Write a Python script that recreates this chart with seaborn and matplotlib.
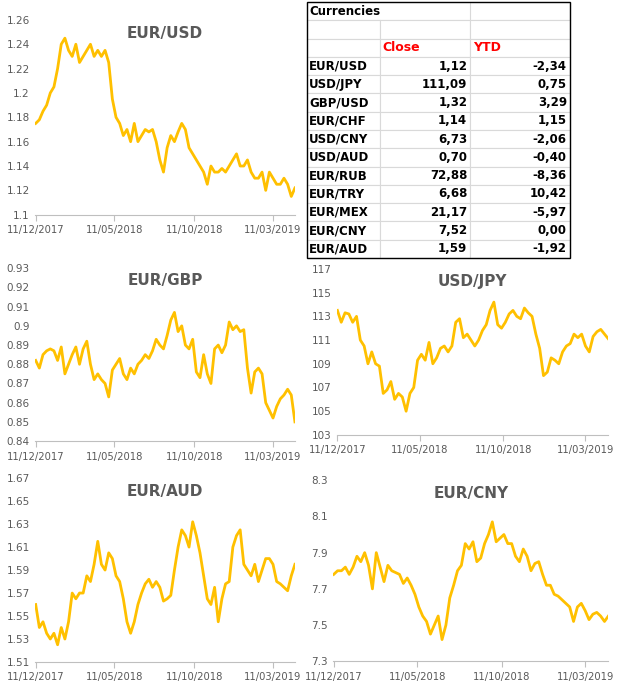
import numpy as np, pandas as pd
import matplotlib
matplotlib.use("Agg")
import matplotlib.pyplot as plt
import matplotlib.dates as mdates
import seaborn as sns

# weekly closes, 11/12/2017 .. late 04/2019
eur_usd = [1.175, 1.178, 1.185, 1.19,
           1.20, 1.205, 1.22, 1.24, 1.245,
           1.235, 1.23, 1.24, 1.225,
           1.23, 1.235, 1.24, 1.23,
           1.235, 1.23, 1.235, 1.225,
           1.195, 1.18, 1.175, 1.165,
           1.17, 1.16, 1.175, 1.16,
           1.165, 1.17, 1.168, 1.17,
           1.16, 1.145, 1.135, 1.155, 1.165,
           1.16, 1.168, 1.175, 1.17,
           1.155, 1.15, 1.145, 1.14,
           1.135, 1.125, 1.14, 1.135,
           1.135, 1.138, 1.135, 1.14,
           1.145, 1.15, 1.14, 1.14,
           1.145, 1.135, 1.13, 1.13, 1.135,
           1.12, 1.135, 1.13, 1.125,
           1.125, 1.13, 1.125, 1.115, 1.122]
eur_gbp = [0.882, 0.878, 0.885, 0.887,
           0.888, 0.887, 0.882, 0.889, 0.875,
           0.88, 0.885, 0.889, 0.88,
           0.888, 0.892, 0.88, 0.872,
           0.875, 0.872, 0.87, 0.863,
           0.877, 0.88, 0.883, 0.875,
           0.872, 0.878, 0.875, 0.88,
           0.882, 0.885, 0.883, 0.887,
           0.893, 0.89, 0.888, 0.895, 0.903,
           0.907, 0.897, 0.9, 0.89,
           0.888, 0.893, 0.876, 0.873,
           0.885, 0.875, 0.87, 0.888,
           0.89, 0.886, 0.89, 0.902,
           0.898, 0.9, 0.897, 0.898,
           0.878, 0.865, 0.876, 0.878, 0.875,
           0.86, 0.856, 0.852, 0.858,
           0.862, 0.864, 0.867, 0.864, 0.85]
usd_jpy = [113.5, 112.5, 113.3, 113.2,
           112.5, 113.0, 111.0, 110.5, 109.0,
           110.0, 109.0, 108.8, 106.5,
           106.8, 107.5, 106.0, 106.5,
           106.2, 105.0, 106.5, 107.0,
           109.3, 109.8, 109.3, 110.8,
           109.0, 109.5, 110.3, 110.5,
           110.0, 110.5, 112.5, 112.8,
           111.2, 111.5, 111.0, 110.5, 111.0,
           111.8, 112.3, 113.5, 114.2,
           112.3, 112.0, 112.5, 113.2,
           113.5, 113.0, 112.8, 113.7,
           113.3, 113.0, 111.5, 110.3,
           108.0, 108.3, 109.5, 109.3,
           109.0, 110.0, 110.5, 110.7, 111.5,
           111.2, 111.5, 110.5, 110.0,
           111.3, 111.7, 111.9, 111.5, 111.1]
eur_aud = [1.56, 1.54, 1.545, 1.535,
           1.53, 1.535, 1.525, 1.54, 1.53,
           1.545, 1.57, 1.565, 1.57,
           1.57, 1.585, 1.58, 1.595,
           1.615, 1.595, 1.59, 1.605,
           1.60, 1.585, 1.58, 1.565,
           1.545, 1.535, 1.545, 1.56,
           1.57, 1.578, 1.582, 1.575,
           1.58, 1.575, 1.563, 1.565, 1.568,
           1.59, 1.61, 1.625, 1.62,
           1.61, 1.632, 1.62, 1.605,
           1.585, 1.565, 1.56, 1.575,
           1.545, 1.565, 1.578, 1.58,
           1.61, 1.62, 1.625, 1.595,
           1.59, 1.585, 1.595, 1.58, 1.59,
           1.60, 1.60, 1.595, 1.58,
           1.578, 1.575, 1.572, 1.585, 1.595]
eur_cny = [7.78, 7.80, 7.80, 7.82,
           7.78, 7.82, 7.88, 7.85, 7.90,
           7.83, 7.70, 7.90, 7.82,
           7.74, 7.83, 7.80, 7.79,
           7.78, 7.73, 7.76, 7.72,
           7.67, 7.60, 7.55, 7.52,
           7.45, 7.50, 7.55, 7.42,
           7.50, 7.65, 7.72, 7.80,
           7.83, 7.95, 7.92, 7.96, 7.85,
           7.87, 7.95, 8.00, 8.07,
           7.96, 7.98, 8.00, 7.95,
           7.95, 7.88, 7.85, 7.92,
           7.88, 7.80, 7.84, 7.85,
           7.78, 7.72, 7.72, 7.67,
           7.66, 7.64, 7.62, 7.60, 7.52,
           7.60, 7.62, 7.58, 7.53,
           7.56, 7.57, 7.55, 7.52, 7.55]

dates = pd.date_range("2017-12-11", periods=len(eur_usd), freq="7D")
tick_dates = pd.to_datetime(["2017-12-11", "2018-05-11", "2018-10-11", "2019-03-11"])

tbl_pairs = ["EUR/USD", "USD/JPY", "GBP/USD", "EUR/CHF", "USD/CNY", "USD/AUD",
             "EUR/RUB", "EUR/TRY", "EUR/MEX", "EUR/CNY", "EUR/AUD"]
tbl_close = ["1,12", "111,09", "1,32", "1,14", "6,73", "0,70", "72,88", "6,68", "21,17", "7,52", "1,59"]
tbl_ytd = ["-2,34", "0,75", "3,29", "1,15", "-2,06", "-0,40", "-8,36", "10,42", "-5,97", "0,00", "-1,92"]

LINE = "#FFC000"
GREY = "#595959"

fig = plt.figure(figsize=(6.17, 6.86), dpi=100)

def chart(rect, vals, title, ylo, yhi, step, fmt):
    ax = fig.add_axes(rect)
    df = pd.DataFrame({"date": dates, "v": vals})
    sns.lineplot(data=df, x="date", y="v", ax=ax, color=LINE, lw=2)
    ax.set_xlim(dates[0] - pd.Timedelta(days=1), dates[-1])
    ax.set_ylim(ylo, yhi)
    ax.set_yticks(np.arange(ylo, yhi + step / 2, step))
    ax.yaxis.set_major_formatter(matplotlib.ticker.FuncFormatter(lambda v, p: fmt(v)))
    ax.set_xticks(tick_dates)
    ax.xaxis.set_major_formatter(mdates.DateFormatter("%d/%m/%Y"))
    ax.tick_params(axis="y", length=0, labelsize=7.5, labelcolor=GREY, pad=4)
    ax.tick_params(axis="x", length=4, color="#bfbfbf", labelsize=7.2, labelcolor=GREY)
    for s in ["top", "right", "left"]:
        ax.spines[s].set_visible(False)
    ax.spines["bottom"].set_color("#bfbfbf")
    ax.set_xlabel(""); ax.set_ylabel("")
    ax.text(0.5, 0.97, title, transform=ax.transAxes, ha="center", va="top",
            fontsize=11, fontweight="bold", color=GREY)
    return ax

g = lambda v: ("%.2f" % v).rstrip("0").rstrip(".")
chart([0.057, 0.687, 0.421, 0.284], eur_usd, "EUR/USD", 1.10, 1.26, 0.02, g)
chart([0.057, 0.357, 0.421, 0.252], eur_gbp, "EUR/GBP", 0.84, 0.93, 0.01, g)
chart([0.546, 0.366, 0.440, 0.242], usd_jpy, "USD/JPY", 103, 117, 2, lambda v: "%d" % v)
chart([0.057, 0.035, 0.421, 0.268], eur_aud, "EUR/AUD", 1.51, 1.67, 0.02, g)
chart([0.540, 0.036, 0.446, 0.264], eur_cny, "EUR/CNY", 7.3, 8.3, 0.2, lambda v: "%.1f" % v)

# table
tax = fig.add_axes([0.4976, 0.624, 0.426, 0.373])
tax.axis("off")
cells = [["Currencies", "", ""], ["", "", ""], ["", "Close", "YTD"]]
cells += [[p, c, y] for p, c, y in zip(tbl_pairs, tbl_close, tbl_ytd)]
tb = tax.table(cellText=cells, colWidths=[0.278, 0.342, 0.380], bbox=[0, 0, 1, 1], cellLoc="left")
tb.auto_set_font_size(False)
for (r, c), cell in tb.get_celld().items():
    cell.set_edgecolor("#d9d9d9")
    cell.set_linewidth(0.8)
    t = cell.get_text()
    t.set_fontsize(8.5)
    t.set_fontweight("bold")
    cell.PAD = 0.03
    if r >= 3 and c > 0:
        t.set_ha("right")
        cell._loc = "right"
    if r == 2:
        t.set_color("red")
        t.set_fontsize(9)
    if r == 0 and c == 0:
        cell.visible_edges = "LTB"
    if r == 0 and c == 1:
        cell.visible_edges = "TB"
tax.add_patch(plt.Rectangle((0, 0), 1, 1, transform=tax.transAxes, fill=False, ec="black", lw=1, clip_on=False))

fig.savefig("out.png", dpi=100)
